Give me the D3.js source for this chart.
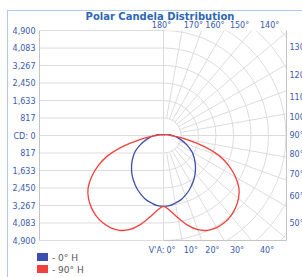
<!DOCTYPE html>
<html>
<head>
<meta charset="utf-8">
<script src="https://cdn.jsdelivr.net/npm/d3@7"></script>
<style>
  body { margin: 0; background: #fff; }
  text { font-family: "DejaVu Sans", Verdana, sans-serif; }
</style>
</head>
<body>
<svg class="svg-polar" width="302" height="277"></svg>
<script>
// vertical angles (deg from nadir) and candela values, mirrored on both sides
const ANGLES = [0, 5, 10, 15, 20, 25, 30, 35, 40, 45, 50, 55, 60, 65, 70, 75, 80, 85, 90, 100, 110, 120, 135, 150, 165, 180];
const CD_0H = [3310, 3290, 3200, 3110, 2970, 2820, 2650, 2480, 2300, 2110, 1920, 1730, 1540, 1310, 1090, 880, 700, 540, 420, 220, 120, 70, 50, 45, 40, 40];
const CD_90H = [3310, 3520, 3900, 4330, 4680, 4880, 4960, 4960, 4890, 4760, 4570, 4300, 3880, 3380, 2780, 1950, 1150, 620, 340, 200, 120, 80, 55, 45, 40, 40];

const CD_TICKS = [0, 817, 1633, 2450, 3267, 4083, 4900];
const CD_CIRCLES = [817, 1633, 2450, 3267, 4083, 4900, 5717, 6533, 7350];
const RAY_ANGLES = [10, 20, 30, 40, 50, 60, 70, 80, 90, 100, 110, 120, 130, 140, 150, 160, 170];
const BOTTOM_LABELS = [10, 20, 30, 40];
const TOP_LABELS = [170, 160, 150, 140];
const RIGHT_LABELS = [130, 120, 110, 100, 90, 80, 70, 60, 50];
const SERIES_NAMES = ['- 0° H', '- 90° H'];

(function () {
  "use strict";
  setPolarChart();

  function setPolarChart() {
    let svg = d3.select('.svg-polar'),
      left = 39.5,
      right = 286.5,
      cx = 163.5,
      cy = 135.5,
      R = 105,
      gridColor = '#dcdcdc',
      axisColor = '#c4c4c4',
      textColor = '#3a5aab',
      rad = Math.PI / 180;

    let y = d3.scaleLinear().domain([-4900, 4900]).range([cy + R, cy - R]);
    let r = d3.scaleLinear().domain([0, 4900]).range([0, R]);

    /*
     * frame and title
     */
    svg.append('rect')
      .attr('x', 7.5).attr('y', 10.5)
      .attr('width', 300).attr('height', 280)
      .attr('fill', 'none')
      .attr('stroke', '#b3cbea');

    svg.append('text')
      .attr('x', 160).attr('y', 19.5)
      .attr('text-anchor', 'middle')
      .attr('font-size', '10px')
      .attr('font-weight', 'bold')
      .attr('fill', '#2f66b3')
      .text('Polar Candela Distribution');

    /*
     * left half: horizontal grid and candela axis
     */
    let tickVals = CD_TICKS.slice(1).map(function (d) { return -d; }).concat(CD_TICKS);

    svg.append('g').selectAll('line')
      .data(tickVals)
      .enter()
      .append('line')
      .attr('x1', left).attr('x2', cx)
      .attr('y1', function (d) { return y(d); })
      .attr('y2', function (d) { return y(d); })
      .attr('stroke', gridColor);

    let axis = svg.append('g')
      .attr('transform', 'translate(' + left + ',0)')
      .call(d3.axisLeft(y)
        .tickValues(tickVals)
        .tickSize(0)
        .tickPadding(4)
        .tickFormat(function (d) {
          return d === 0 ? 'CD: 0' : d3.format(',')(Math.abs(d));
        }));
    axis.select('.domain').remove();
    axis.selectAll('text')
      .attr('font-family', '"DejaVu Sans", Verdana, sans-serif')
      .attr('font-size', '8px')
      .attr('fill', textColor);

    /*
     * right half: polar grid
     */
    svg.append('clipPath').attr('id', 'right-half')
      .append('rect')
      .attr('x', cx).attr('y', cy - R)
      .attr('width', right - cx).attr('height', 2 * R);

    let grid = svg.append('g').attr('clip-path', 'url(#right-half)');

    grid.selectAll('circle')
      .data(CD_CIRCLES)
      .enter()
      .append('circle')
      .attr('cx', cx).attr('cy', cy)
      .attr('r', function (d) { return r(d); })
      .attr('fill', 'none')
      .attr('stroke', gridColor);

    grid.selectAll('line.ray')
      .data(RAY_ANGLES)
      .enter()
      .append('line')
      .attr('class', 'ray')
      .attr('x1', function (d) { return cx + r(CD_CIRCLES[0]) * Math.sin(d * rad); })
      .attr('y1', function (d) { return cy + r(CD_CIRCLES[0]) * Math.cos(d * rad); })
      .attr('x2', function (d) { return cx + 400 * Math.sin(d * rad); })
      .attr('y2', function (d) { return cy + 400 * Math.cos(d * rad); })
      .attr('stroke', gridColor);

    // centre vertical and plot edges
    svg.append('line')
      .attr('x1', cx).attr('x2', cx)
      .attr('y1', cy - R).attr('y2', cy + R)
      .attr('stroke', gridColor);
    svg.append('line')
      .attr('x1', left).attr('x2', left)
      .attr('y1', cy - R).attr('y2', cy + R)
      .attr('stroke', axisColor);
    svg.append('line')
      .attr('x1', right).attr('x2', right)
      .attr('y1', cy - R).attr('y2', cy + R)
      .attr('stroke', axisColor);
    svg.append('line')
      .attr('x1', cx).attr('x2', right)
      .attr('y1', cy + R).attr('y2', cy + R)
      .attr('stroke', axisColor);

    /*
     * angle labels
     */
    let labels = svg.append('g')
      .attr('font-size', '8px')
      .attr('fill', textColor);

    labels.selectAll('text.bottom')
      .data(BOTTOM_LABELS)
      .enter()
      .append('text')
      .attr('class', 'bottom')
      .attr('x', function (d) { return cx + (R + 10) * Math.tan(d * rad); })
      .attr('y', cy + R + 12)
      .text(function (d) { return d + '°'; });

    labels.append('text')
      .attr('x', cx + 1).attr('y', cy + R + 12)
      .attr('text-anchor', 'end')
      .text("V'A:");
    labels.append('text')
      .attr('x', cx + 3).attr('y', cy + R + 12)
      .text('0°');

    labels.selectAll('text.top')
      .data(TOP_LABELS)
      .enter()
      .append('text')
      .attr('class', 'top')
      .attr('x', function (d) { return cx + (R + 10) * Math.tan((180 - d) * rad); })
      .attr('y', cy - R - 3)
      .text(function (d) { return d + '°'; });

    labels.append('text')
      .attr('x', cx - 2).attr('y', cy - R - 3)
      .attr('text-anchor', 'middle')
      .text('180°');

    labels.selectAll('text.right')
      .data(RIGHT_LABELS)
      .enter()
      .append('text')
      .attr('class', 'right')
      .attr('x', right + 3)
      .attr('y', function (d) { return cy + R * Math.tan((90 - d) * rad); })
      .attr('dy', '0.35em')
      .text(function (d) { return d + '°'; });

    /*
     * candela curves (left side mirrored from right side)
     */
    function sectionPoints(values) {
      let leftSide = ANGLES.map(function (a, i) {
        return [Math.PI + a * rad, r(values[i])];
      }).reverse();
      let rightSide = ANGLES.slice(1).map(function (a, i) {
        return [Math.PI - a * rad, r(values[i + 1])];
      });
      return leftSide.concat(rightSide);
    }

    let line = d3.lineRadial()
      .angle(function (d) { return d[0]; })
      .radius(function (d) { return d[1]; })
      .curve(d3.curveCatmullRom.alpha(0.5));

    let curves = [
      { values: CD_0H, color: '#3d4fae' },
      { values: CD_90H, color: '#f2403f' }
    ];

    svg.append('g')
      .attr('transform', 'translate(' + cx + ',' + cy + ')')
      .selectAll('path')
      .data(curves)
      .enter()
      .append('path')
      .attr('d', function (d) { return line(sectionPoints(d.values)); })
      .attr('fill', 'none')
      .attr('stroke', function (d) { return d.color; })
      .attr('stroke-width', 1.3);

    /*
     * legend
     */
    let legend = svg.append('g')
      .selectAll('g')
      .data(SERIES_NAMES)
      .enter()
      .append('g')
      .attr('transform', function (d, i) {
        return 'translate(37,' + (253 + i * 12) + ')';
      });

    legend.append('rect')
      .attr('width', 11).attr('height', 8)
      .attr('fill', function (d, i) { return curves[i].color; });

    legend.append('text')
      .attr('x', 15).attr('y', 8)
      .attr('font-size', '9px')
      .attr('fill', '#555')
      .text(function (d) { return d; });
  }
}());
</script>
</body>
</html>
